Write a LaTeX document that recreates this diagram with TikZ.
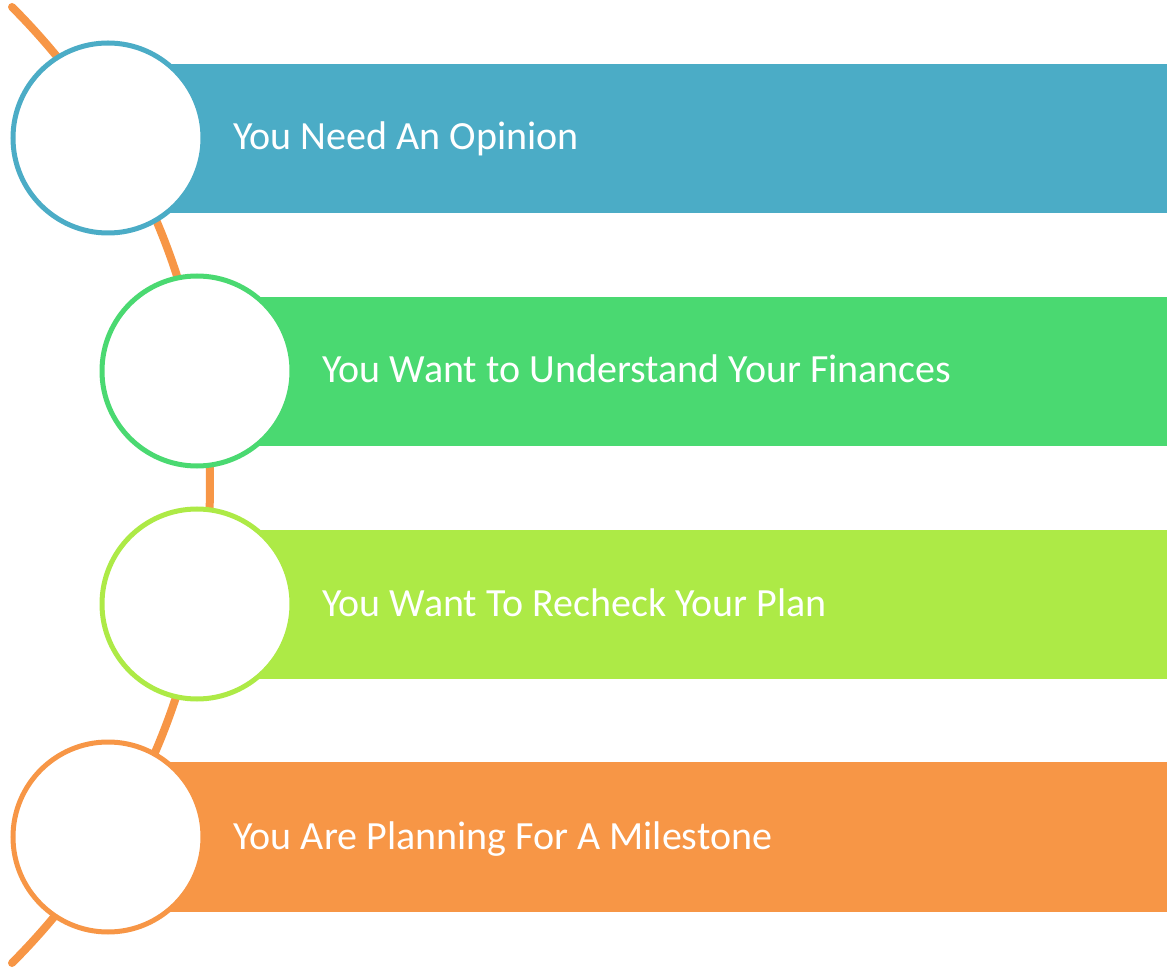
\documentclass[tikz,border=0pt]{standalone}
\usepackage{fontspec}
\setmainfont{Carlito}
\definecolor{cblue}{HTML}{4BACC6}
\definecolor{cgreen}{HTML}{4AD971}
\definecolor{clime}{HTML}{ADEA46}
\definecolor{corange}{HTML}{F79646}
\tikzset{
  bar/.style={fill=#1, draw=none},
  ring/.style={circle, draw=#1, fill=white, line width=3.75pt, minimum size=142.5pt, inner sep=0pt},
  label/.style={anchor=base west, inner sep=0pt, text=white, font=\fontsize{30pt}{36pt}\selectfont},
  spine/.style={draw=corange, line width=6pt, line cap=round}
}
\begin{document}
\begin{tikzpicture}[x=0.75pt, y=0.75pt]
\useasboundingbox (0,0) rectangle (1167,-969);
% spine arc
\coordinate (s) at (12,-7);
\draw[spine] (s) arc[start angle=45, end angle=-45, radius=676];
% bars
\fill[bar=cblue] (108,-64) rectangle (1167,-213);
\fill[bar=cgreen] (197,-297) rectangle (1167,-446);
\fill[bar=clime] (197,-530) rectangle (1167,-679);
\fill[bar=corange] (108,-762) rectangle (1167,-912);
% rings
\node[ring=cblue] (c1) at (108,-138) {};
\node[ring=cgreen] (c2) at (197,-371) {};
\node[ring=clime] (c3) at (197,-604) {};
\node[ring=corange] (c4) at (108,-837) {};
% labels
\node[label] (t1) at (233,-150) {You Need An Opinion};
\node[label] (t2) at (322,-383) {You Want to Understand Your Finances};
\node[label] (t3) at (322,-616) {You Want To Recheck Your Plan};
\node[label] (t4) at (233,-849) {You Are Planning For A Milestone};
\end{tikzpicture}
\end{document}
